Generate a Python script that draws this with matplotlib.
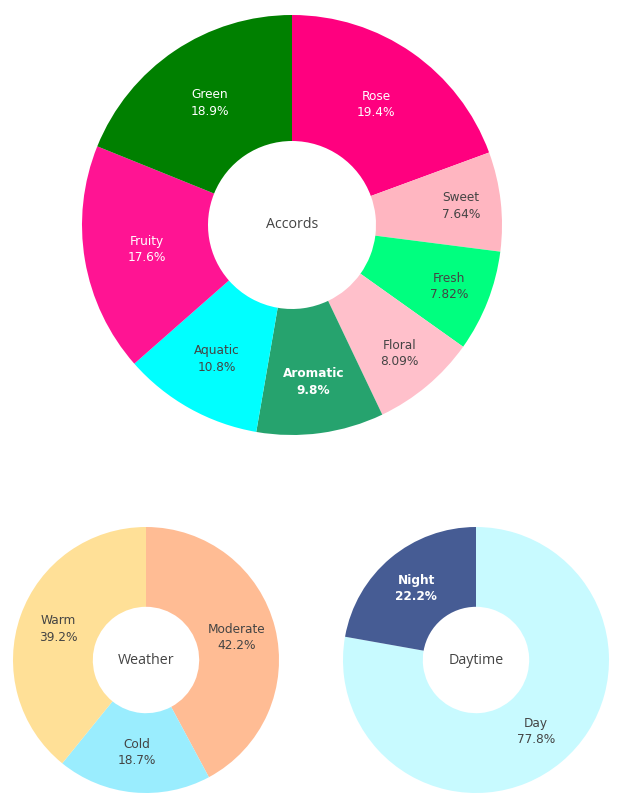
import matplotlib.pyplot as plt
import numpy as np

W, H = 621, 811

accord_labels = ["Rose", "Sweet", "Fresh", "Floral", "Aromatic", "Aquatic", "Fruity", "Green"]
accord_values = [19.4, 7.64, 7.82, 8.09, 9.8, 10.8, 17.6, 18.9]
accord_colors = ["#FF007F", "#FFB6C1", "#00FF7F", "#FFC0CB", "#26A36E", "#00FFFF", "#FF1493", "#008000"]

weather_labels = ["Moderate", "Cold", "Warm"]
weather_values = [42.2, 18.7, 39.2]
weather_colors = ["#FFBC94", "#9AEDFE", "#FFE097"]

daytime_labels = ["Day", "Night"]
daytime_values = [77.8, 22.2]
daytime_colors = ["#C8FAFF", "#465C94"]

dark_slices = {"Rose": "normal", "Green": "normal", "Fruity": "normal",
               "Aromatic": "bold", "Night": "bold"}


def donut(fig, cx, cy, R, labels, values, colors, title):
    # axes placed in pixel units, y measured from the top
    ax = fig.add_axes([(cx - R) / W, 1 - (cy + R) / H, 2 * R / W, 2 * R / H])
    ax.pie(values, colors=colors, startangle=90, counterclock=False,
           radius=1, wedgeprops=dict(width=0.6, linewidth=0))
    ax.set_xlim(-1, 1)
    ax.set_ylim(-1, 1)
    ax.set_aspect("equal")
    ax.axis("off")

    total = sum(values)
    start = 0.0
    for lab, v in zip(labels, values):
        frac = v / total
        mid = (start + frac / 2) * 2 * np.pi
        start += frac
        r = 0.70 + max(0.0, 0.12 - frac) * 2.5
        x, y = r * np.sin(mid), r * np.cos(mid)
        if lab in dark_slices:
            col, wt = "white", dark_slices[lab]
        else:
            col, wt = "#444444", "normal"
        ax.text(x, y, f"{lab}\n{v:g}%", ha="center", va="center",
                color=col, fontsize=8.7, fontweight=wt, linespacing=1.35,
                family="DejaVu Sans")
    ax.text(0, 0, title, ha="center", va="center", color="#444444",
            fontsize=10.3, family="Open Sans")


fig = plt.figure(figsize=(W / 100, H / 100), dpi=100)
donut(fig, 292, 225, 210, accord_labels, accord_values, accord_colors, "Accords")
donut(fig, 146, 660, 133, weather_labels, weather_values, weather_colors, "Weather")
donut(fig, 476, 660, 133, daytime_labels, daytime_values, daytime_colors, "Daytime")

fig.savefig("out.png", dpi=100)
